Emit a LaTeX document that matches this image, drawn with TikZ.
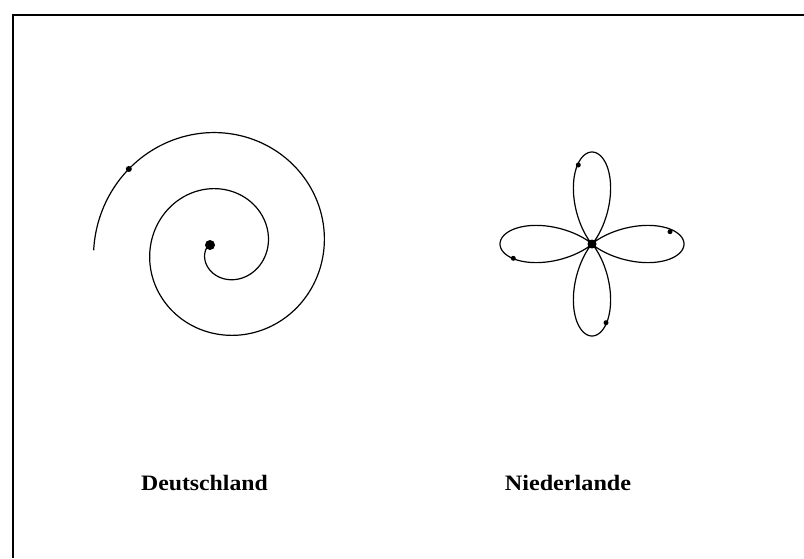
\documentclass[tikz,border=0pt]{standalone}
\usepackage{fontspec}
\setmainfont{Liberation Serif}
\begin{document}
\begin{tikzpicture}[x=1pt,y=-1pt,
  curve/.style={line width=1.2pt,black},
  bigdot/.style={circle,fill=black,inner sep=0pt,minimum size=10pt},
  smalldot/.style={circle,fill=black,inner sep=0pt,minimum size=5pt},
  label/.style={anchor=base,font=\bfseries\fontsize{22}{26}\selectfont}]
\useasboundingbox (0,0) rectangle (804,558);
% frame
\draw[line width=2pt] (13,558) -- (13,14.5) -- (804,14.5);
% spiral (Deutschland)
\draw[curve] plot[domain=167:901,samples=400,smooth,variable=\t]
  ({223+(30.5+(\t-270)*14.1/90)*cos(\t)},{248-(30.5+(\t-270)*14.1/90)*sin(\t)});
\node[bigdot] (dcenter) at (210,245) {};
\node[smalldot,minimum size=6pt] (dorbit) at ({223+(30.5+590*14.1/90)*cos(860)},{248-(30.5+590*14.1/90)*sin(860)}) {};
% four-leaf rose (Niederlande)
\draw[curve] plot[domain=0:360,samples=500,smooth,variable=\t]
  ({592+92*(cos(2*\t))^2*cos(\t)},{244-92*(cos(2*\t))^2*sin(\t)}) -- cycle;
\node[bigdot,minimum size=9pt] (ncenter) at (592,244) {};
\node[smalldot] (ntop) at (578.3,165) {};
\node[smalldot] (nright) at (670,231.7) {};
\node[smalldot] (nbottom) at (606,322.7) {};
\node[smalldot] (nleft) at (513.3,258.3) {};
% labels
\node[label] (lde) at (204.5,490) {\scalebox{1.08}[1]{Deutschland}};
\node[label] (lnl) at (568,490) {\scalebox{1.1}[1]{Niederlande}};
\end{tikzpicture}
\end{document}
